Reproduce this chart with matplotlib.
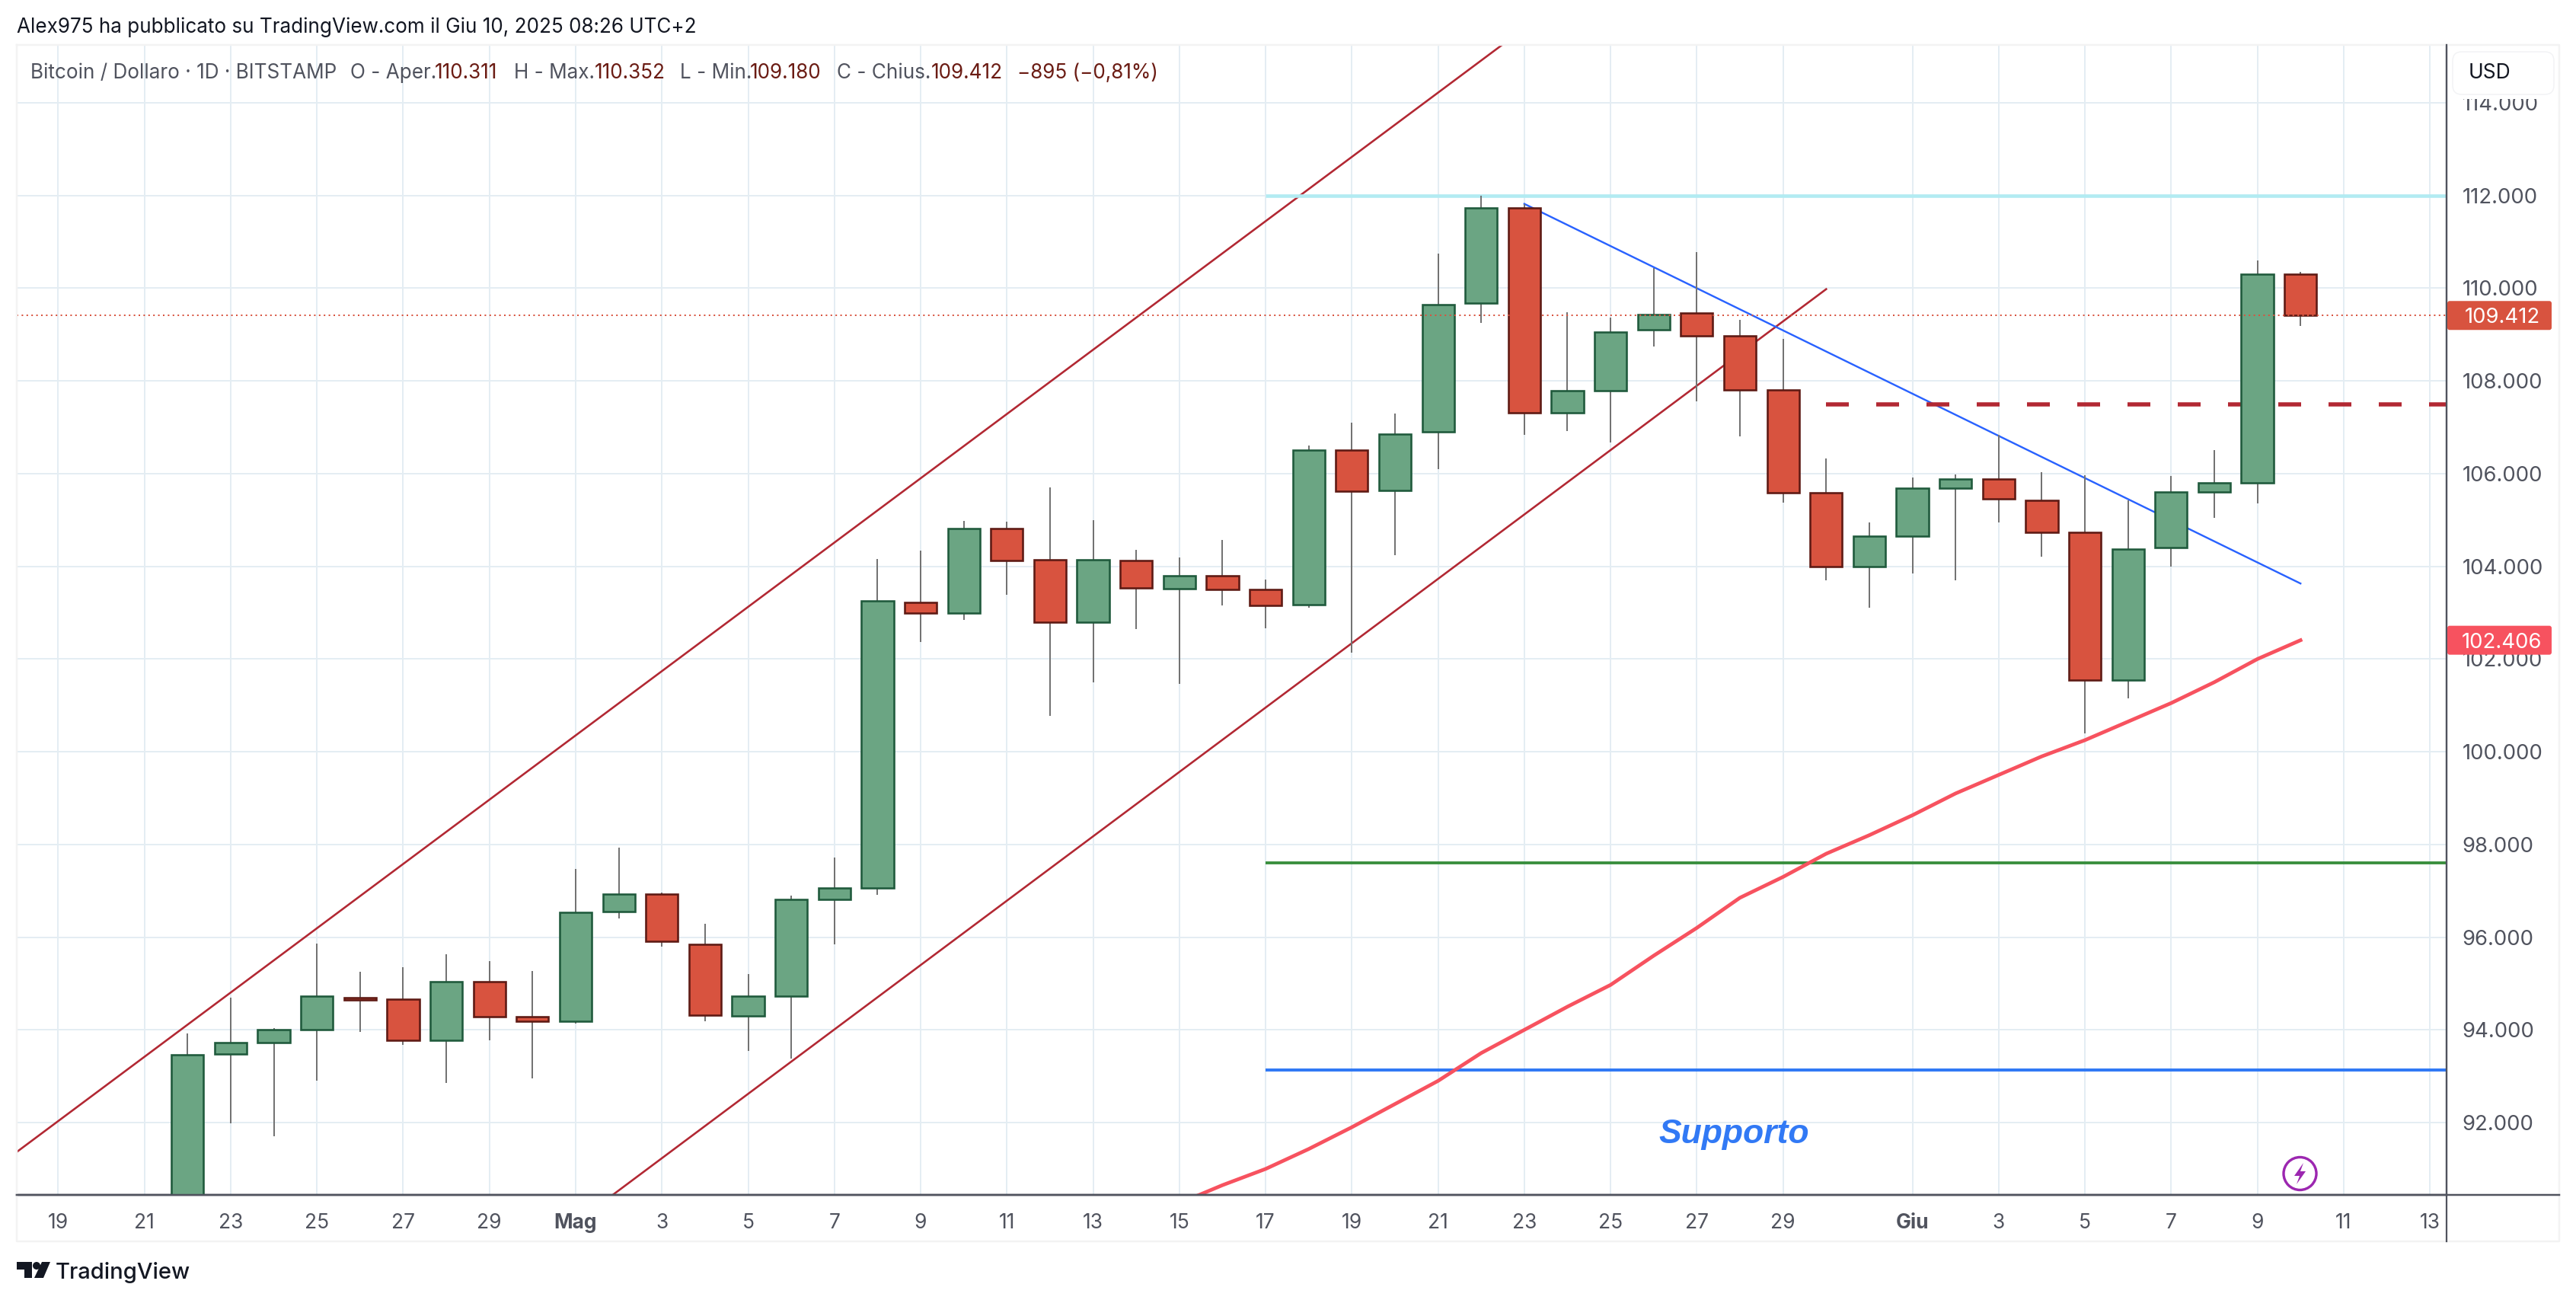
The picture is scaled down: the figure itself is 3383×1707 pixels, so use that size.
import matplotlib
matplotlib.use("Agg")
import matplotlib.pyplot as plt
from matplotlib.patches import FancyBboxPatch, Rectangle, Circle, Polygon

W, H, DPI = 3383, 1707, 100
px = 72 / DPI
plt.rcParams['font.family'] = ['Inter', 'DejaVu Sans']

# ---- data (prices in thousands of USD, x = days since 19 April) ----
days = list(range(3, 53))
opens = [87.5, 93.48, 93.72, 94.0, 94.7, 94.66, 93.77, 95.04, 94.28, 94.18, 96.55, 96.93, 95.84, 94.3, 94.72,
         96.81, 97.06, 103.23, 102.99, 104.81, 104.14, 102.79, 104.12, 103.51, 103.79, 103.5, 103.17, 106.5,
         105.63, 106.9, 109.68, 111.73, 107.31, 107.79, 109.11, 109.46, 108.97, 107.8, 105.58, 104.0, 104.65,
         105.68, 105.89, 105.42, 104.73, 101.55, 104.4, 105.6, 105.8, 110.311]
highs = [93.93, 94.7, 94.04, 95.86, 95.26, 95.36, 95.63, 95.49, 95.27, 97.47, 97.93, 96.96, 96.29, 95.21, 96.9,
         97.72, 104.16, 104.34, 104.98, 104.96, 105.7, 104.99, 104.36, 104.19, 104.57, 103.72, 106.6, 107.1,
         107.3, 110.75, 112.0, 111.81, 109.49, 109.37, 110.44, 110.78, 109.31, 108.91, 106.32, 104.95, 105.91,
         105.99, 106.84, 106.03, 105.96, 105.43, 105.95, 106.5, 110.6, 110.352]
lows = [87.0, 91.98, 91.71, 92.9, 93.95, 93.68, 92.85, 93.78, 92.95, 94.14, 96.41, 95.8, 94.18, 93.55, 93.38,
        95.84, 96.92, 102.36, 102.85, 103.38, 100.77, 101.49, 102.64, 101.46, 103.15, 102.67, 103.1, 102.13,
        104.24, 106.1, 109.25, 106.84, 106.92, 106.67, 108.75, 107.56, 106.8, 105.38, 103.7, 103.1, 103.85,
        103.7, 104.95, 104.2, 100.4, 101.15, 104.0, 105.05, 105.35, 109.18]
closes = [93.47, 93.72, 94.0, 94.72, 94.65, 93.77, 95.04, 94.28, 94.18, 96.53, 96.93, 95.91, 94.31, 94.72, 96.81,
          97.06, 103.25, 102.99, 104.81, 104.12, 102.79, 104.14, 103.53, 103.79, 103.5, 103.15, 106.5, 105.62,
          106.85, 109.65, 111.73, 107.31, 107.79, 109.05, 109.44, 108.97, 107.81, 105.58, 104.0, 104.65, 105.69,
          105.89, 105.45, 104.74, 101.55, 104.38, 105.6, 105.8, 110.3, 109.412]

ma_days = list(range(26, 53))
ma_values = [90.26, 90.65, 91.0, 91.43, 91.9, 92.4, 92.9, 93.5, 94.0, 94.5, 94.97, 95.6, 96.2, 96.85, 97.3,
             97.8, 98.2, 98.63, 99.1, 99.5, 99.9, 100.25, 100.65, 101.05, 101.5, 102.0, 102.406]

channel_upper_x, channel_upper_y = [-0.97, 33.5], [91.36, 115.26]
channel_lower_x, channel_lower_y = [12.86, 41.0], [90.44, 109.98]
trend_x, trend_y = [34.0, 52.0], [111.82, 103.63]
hline_start = 28
cyan_level, green_level, blue_level = 112.0, 97.6, 93.13
dash_start, dash_level = 41, 107.5
last_price, ma_price = 109.412, 102.406

xtick_days = [0, 2, 4, 6, 8, 10, 12, 14, 16, 18, 20, 22, 24, 26, 28, 30, 32, 34, 36, 38, 40, 43, 45, 47, 49, 51, 53, 55]
xtick_labels = ['19', '21', '23', '25', '27', '29', 'Mag', '3', '5', '7', '9', '11', '13', '15', '17', '19', '21',
                '23', '25', '27', '29', 'Giu', '3', '5', '7', '9', '11', '13']
ytick_values = [92, 94, 96, 98, 100, 102, 104, 106, 108, 110, 112, 114]

# ---- colours ----
GRID = '#E4EDF3'; AXIS = '#50535E'; TXT = '#50535E'; DRED = '#6B1C14'
UP = '#6BA583'; UPE = '#1F5A3C'; DN = '#D8533F'; DNE = '#5E1A14'; WICK = '#737373'
CHAN = '#B22833'; TREND = '#2962FF'; CYAN = '#B2EBF2'; HGRN = '#388E3C'; HBLU = '#3179F5'; MA = '#F7525F'

fig = plt.figure(figsize=(W / DPI, H / DPI), dpi=DPI, facecolor='white')
L, R, T, B = 22, 3213, 59, 1569
ax = fig.add_axes([L / W, 1 - B / H, (R - L) / W, (B - T) / H], facecolor='white')

# day -> pixel: x = 756 + (d - 12) * 56.63; price -> pixel: y = 135 + (114 - v) * 60.865
ax.set_xlim(12 + (L - 756) / 56.63, 12 + (R - 756) / 56.63)
ax.set_ylim(114 - (B - 135) / 60.865, 114 - (T - 135) / 60.865)

ax.grid(True, color=GRID, lw=2 * px, zorder=0)
ax.set_axisbelow(True)
ax.set_xticks(xtick_days, xtick_labels)
ax.set_yticks(ytick_values, [f'{v:.3f}' for v in ytick_values])
ax.yaxis.tick_right()
ax.tick_params(axis='x', length=0, pad=17.5, labelsize=19, labelcolor=TXT)
ax.tick_params(axis='y', length=0, pad=15, labelsize=19.8, labelcolor=TXT)
for t in ax.get_xticklabels():
    if t.get_text() in ('Mag', 'Giu'):
        t.set_fontweight('bold')
for s in ('top', 'left'):
    ax.spines[s].set_visible(False)
for s in ('right', 'bottom'):
    ax.spines[s].set_color(AXIS)
ax.spines['right'].set_linewidth(2.2 * px)
ax.spines['bottom'].set_linewidth(2.5 * px)

# drawings beneath the candles
ax.plot(channel_upper_x, channel_upper_y, color=CHAN, lw=2.6 * px, zorder=2)
ax.plot(channel_lower_x, channel_lower_y, color=CHAN, lw=2.6 * px, zorder=2)
ax.plot(trend_x, trend_y, color=TREND, lw=2.4 * px, zorder=2)
xr = ax.get_xlim()[1]
ax.plot([hline_start, xr], [cyan_level] * 2, color=CYAN, lw=4.6 * px, zorder=2, solid_capstyle='butt')
ax.plot([hline_start, xr], [green_level] * 2, color=HGRN, lw=3.8 * px, zorder=2, solid_capstyle='butt')
ax.plot([hline_start, xr], [blue_level] * 2, color=HBLU, lw=4 * px, zorder=2, solid_capstyle='butt')
ax.plot([dash_start, xr], [dash_level] * 2, color=CHAN, lw=5.5 * px, zorder=2,
        dashes=(30 / 5.5, 36 / 5.5), dash_capstyle='butt')
ax.plot(ma_days, ma_values, color=MA, lw=4.8 * px, zorder=2, solid_joinstyle='round')

# candles
ups = [c >= o for o, c in zip(opens, closes)]
ax.vlines(days, lows, highs, color=WICK, lw=2 * px, zorder=3)
ax.bar(days, [c - o for o, c in zip(opens, closes)], bottom=opens, width=0.745,
       color=[UP if u else DN for u in ups], edgecolor=[UPE if u else DNE for u in ups],
       linewidth=2.6 * px, zorder=4)

# last-price line
ax.axhline(last_price, color=DN, lw=2 * px, dashes=(1, 2.2), zorder=5)

# ---- overlay in pixel coordinates: frame, labels, legend, logo ----
ov = fig.add_axes([0, 0, 1, 1], facecolor='none')
ov.set_xlim(0, W); ov.set_ylim(H, 0); ov.axis('off')

ov.plot([L, 3361, 3361, L, L], [T, T, 1630, 1630, T], color='#F3F3F3', lw=2.5 * px, zorder=0)
ov.plot([R, R], [T, 1630], color=AXIS, lw=2.2 * px, zorder=1)
ov.plot([L, 3361], [B, B], color=AXIS, lw=2.5 * px, zorder=1)

# white area behind the USD box hides the top of the 114.000 label
ov.add_patch(Rectangle((3215, 61), 144, 69, fc='white', ec='none', zorder=2))
ov.add_patch(FancyBboxPatch((3226, 73), 123, 46, boxstyle='round,pad=5,rounding_size=12',
                            fc='white', ec='#F2F3F5', lw=1.5 * px, zorder=3))
ov.text(3242, 96, 'USD', fontsize=19, color='#131722', va='center', ha='left', zorder=4)

# price labels
def price_tag(y, text, col):
    ov.add_patch(FancyBboxPatch((3214, y - 19), 137, 38, boxstyle='round,pad=0,rounding_size=3',
                                fc=col, ec='none', zorder=3))
    ov.text(3286, y, text, color='white', fontsize=19.8, ha='center', va='center_baseline', zorder=4)

price_tag(135 + (114 - last_price) * 60.865, f'{last_price:.3f}', DN)
price_tag(135 + (114 - ma_price) * 60.865, f'{ma_price:.3f}', MA)

# header
ov.text(22, 36, 'Alex975 ha pubblicato su TradingView.com il Giu 10, 2025 08:26 UTC+2',
        fontsize=18.75, color='#131722', va='center', ha='left')
legend_parts = [(40, 'Bitcoin / Dollaro · 1D · BITSTAMP', TXT), (460, 'O - Aper.', TXT), (571, '110.311', DRED),
                (675, 'H - Max.', TXT), (781, '110.352', DRED), (893, 'L - Min.', TXT), (985, '109.180', DRED),
                (1099, 'C - Chius.', TXT), (1223, '109.412', DRED), (1336, '−895 (−0,81%)', DRED)]
for x, s, c in legend_parts:
    ov.text(x, 96, s, fontsize=18.8, color=c, va='center', ha='left', zorder=4)

# annotation
ov.text(2178, 1490, 'Supporto', fontsize=32, color=HBLU, family='Liberation Sans', fontweight='bold',
        fontstyle='italic', va='center', ha='left', zorder=4)

# lightning icon
ov.add_patch(Circle((3020.5, 1541), 21.5, fc='white', ec='#9C27B0', lw=3.4 * px, zorder=4))
ov.add_patch(Polygon([(3025, 1527), (3013, 1544), (3020, 1544), (3016, 1555), (3028, 1538), (3021, 1538)],
                     closed=True, fc='#9C27B0', ec='none', zorder=5))

# TradingView logo + word
ov.add_patch(Polygon([(22, 1657), (42, 1657), (42, 1678), (32, 1678), (32, 1667), (22, 1667)],
                     closed=True, fc='#131722', ec='none'))
ov.add_patch(Circle((48, 1662), 5, fc='#131722', ec='none'))
ov.add_patch(Polygon([(55, 1657), (66, 1657), (57, 1678), (45, 1678)], closed=True, fc='#131722', ec='none'))
ov.text(73, 1671, 'TradingView', fontsize=21, color='#131722', va='center', ha='left', fontweight='medium')

fig.savefig('out.png', dpi=DPI, facecolor='white')
